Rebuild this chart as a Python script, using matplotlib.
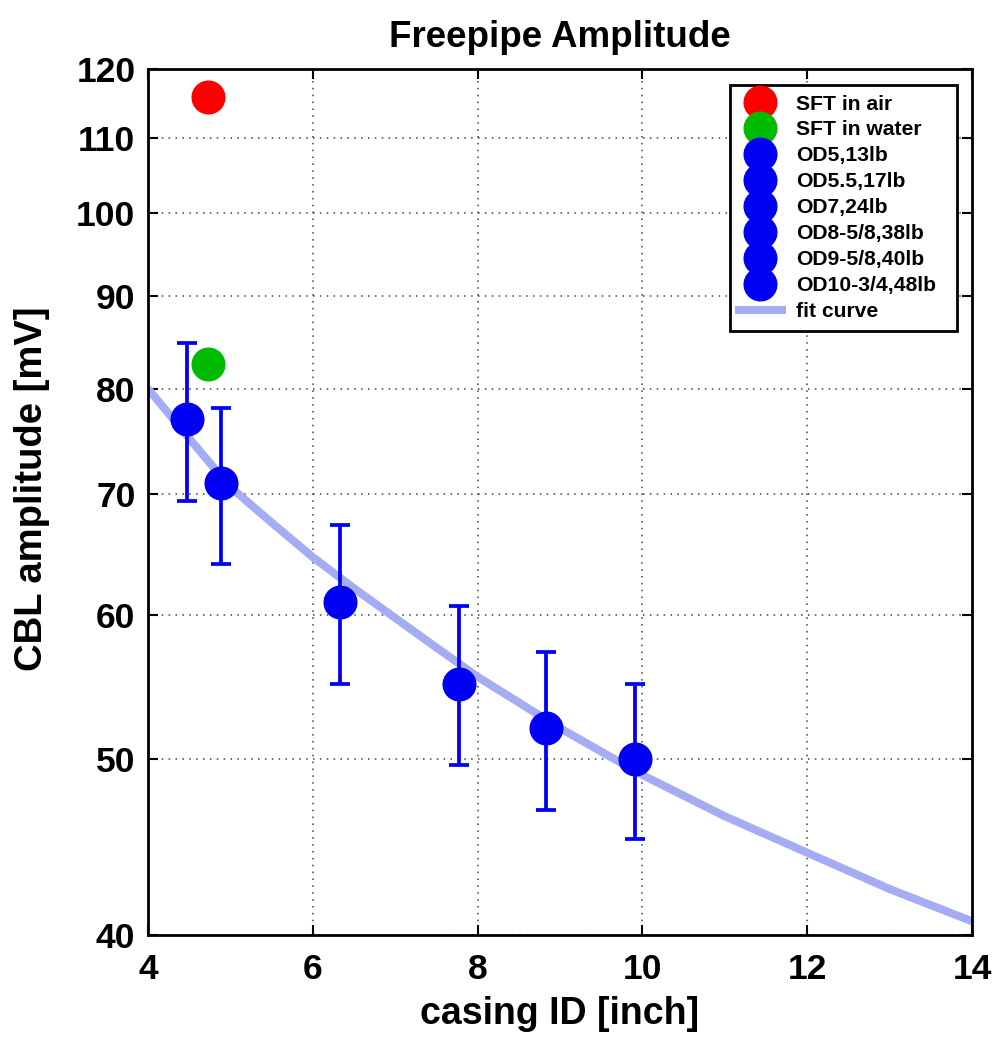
import numpy as np
import matplotlib
matplotlib.use('Agg')
import matplotlib.pyplot as plt
from matplotlib.ticker import FixedLocator, FixedFormatter, NullLocator

# 数据
sft_air_x = [4.73]
sft_air_y = [115.8]
sft_water_x = [4.73]
sft_water_y = [82.5]

casing_labels = ['OD5,13lb', 'OD5.5,17lb', 'OD7,24lb', 'OD8-5/8,38lb', 'OD9-5/8,40lb', 'OD10-3/4,48lb']
casing_id = [4.47, 4.89, 6.33, 7.77, 8.83, 9.91]
amp_mean = [77.0, 71.0, 61.0, 55.0, 52.0, 50.0]
amp_upper = [84.8, 78.1, 67.3, 60.7, 57.3, 55.0]
amp_lower = [69.4, 64.0, 55.0, 49.6, 46.9, 45.2]

# 拟合曲线 (读图取点)
fit_x = [4.0, 4.5, 5.0, 5.5, 6.0, 6.5, 7.0, 7.5, 8.0, 9.0, 10.0, 11.0, 12.0, 13.0, 14.0]
fit_y = [80.0, 75.1, 70.6, 67.5, 64.6, 62.1, 59.8, 57.6, 55.5, 52.0, 49.0, 46.5, 44.4, 42.4, 40.7]

plt.rcParams.update({
    'font.family': ['Liberation Sans', 'DejaVu Sans'],
    'font.weight': 'bold',
    'axes.labelweight': 'bold',
    'axes.titleweight': 'bold',
})

fig = plt.figure(figsize=(9.97, 10.42), dpi=100)
ax = fig.add_axes([0.1484, 0.1027, 0.8266, 0.8311])

ax.set_yscale('log')

fit_color = '#a4acf4'
blue = '#0000f5'

ax.plot(fit_x, fit_y, color=fit_color, linewidth=5.8, solid_capstyle='butt',
        solid_joinstyle='round', zorder=2)

# 误差棒
yerr = [np.array(amp_mean) - np.array(amp_lower), np.array(amp_upper) - np.array(amp_mean)]
ax.errorbar(casing_id, amp_mean, yerr=yerr, fmt='none', ecolor=blue,
            elinewidth=2.7, capsize=7, capthick=2.7, zorder=3)

ms = 23.5
h_air, = ax.plot(sft_air_x, sft_air_y, 'o', color='#ff0000', markersize=ms, label='SFT in air', zorder=4)
h_water, = ax.plot(sft_water_x, sft_water_y, 'o', color='#00bb00', markersize=ms, label='SFT in water', zorder=4)
blue_handles = []
for cx, cy, lab in zip(casing_id, amp_mean, casing_labels):
    h, = ax.plot([cx], [cy], 'o', color=blue, markersize=ms, label=lab, zorder=4)
    blue_handles.append(h)
h_fit, = ax.plot([], [], color=fit_color, linewidth=5.8, label='fit curve')

ax.set_xlim(4, 14)
ax.set_ylim(40, 120)
ax.set_xticks([4, 6, 8, 10, 12, 14])
yt = [40, 50, 60, 70, 80, 90, 100, 110, 120]
ax.yaxis.set_major_locator(FixedLocator(yt))
ax.yaxis.set_major_formatter(FixedFormatter([str(v) for v in yt]))
ax.yaxis.set_minor_locator(NullLocator())

ax.tick_params(axis='both', which='major', direction='in', length=7, width=1.5,
               labelsize=25.5, top=True, right=True)
ax.tick_params(axis='y', pad=9)
ax.tick_params(axis='x', pad=13)
for lbl in ax.get_xticklabels() + ax.get_yticklabels():
    lbl.set_fontweight('bold')
for sp in ax.spines.values():
    sp.set_linewidth(2)

ax.grid(True, which='major', color='k', linestyle=(0, (1, 3.5)), linewidth=1.1, alpha=0.75)

ax.set_xlabel('casing ID [inch]', fontsize=27, labelpad=7)
ax.set_ylabel('CBL amplitude [mV]', fontsize=27.5)
ax.yaxis.set_label_coords(-0.119, 0.515)
ax.set_title('Freepipe Amplitude', fontsize=26.5, pad=16)

handles = [h_air, h_water] + blue_handles + [h_fit]
leg = ax.legend(handles=handles, loc='upper left', bbox_to_anchor=(0.706, 0.5, 0.2755, 0.4815),
                mode='expand',
                prop={'weight': 'bold', 'size': 15.2}, frameon=True, fancybox=False,
                labelspacing=0.33, handlelength=2.0, handletextpad=0.7, borderpad=0.45,
                markerscale=1.0, borderaxespad=0)
leg.get_frame().set_edgecolor('k')
leg.get_frame().set_linewidth(2)
leg.get_frame().set_alpha(1)

fig.savefig('out.png', dpi=100)
plt.close(fig)
